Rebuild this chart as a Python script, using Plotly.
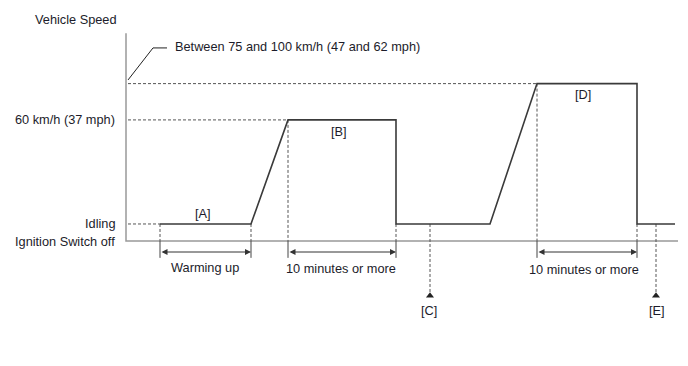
import plotly.graph_objects as go

# ---- data (schematic drive pattern) ----
IDLE = 8.4          # idling speed level (schematic)
TARGET_B = 60       # km/h
TARGET_D = 78       # between 75 and 100 km/h
profile_time = [3.4, 12.5, 16.2, 27.0, 27.0, 36.4, 41.1, 51.1, 51.1, 54.9]
profile_speed = [IDLE, IDLE, TARGET_B, TARGET_B, IDLE, IDLE, TARGET_D, TARGET_D, IDLE, IDLE]
axis_end_time = 55.2
axis_top_speed = 103

level_labels = ["Vehicle Speed", "60 km/h (37 mph)", "Idling", "Ignition Switch off"]
range_label = "Between 75 and 100 km/h (47 and 62 mph)"
step_labels = ["[A]", "[B]", "[C]", "[D]", "[E]"]
duration_labels = ["Warming up", "10 minutes or more", "10 minutes or more"]

# spans (start, end) for dimension arrows
spans = [(3.4, 12.5), (16.2, 27.0), (41.1, 51.1)]
marker_times = [30.4, 53.0]   # [C], [E]

LINE = "#3a3a3a"
AXIS = "#999999"
DASH = "#555555"
TXT = "#1c1c2a"
FONT = dict(family="Liberation Sans, Arial, sans-serif", size=12.75, color=TXT)

fig = go.Figure()

# axes (drawn as lines)
fig.add_trace(go.Scatter(x=[0, 0, axis_end_time], y=[axis_top_speed, 0, 0], mode="lines",
                         line=dict(color=AXIS, width=1.5), hoverinfo="skip"))

# dashed reference levels
for lvl, t_end in [(IDLE, profile_time[0]), (TARGET_B, profile_time[2]), (TARGET_D, profile_time[6])]:
    fig.add_trace(go.Scatter(x=[0.2, t_end], y=[lvl, lvl], mode="lines",
                             line=dict(color=DASH, width=1, dash="3px,2px"), hoverinfo="skip"))

# extension lines: dashed above the axis, solid below it
ext_low = -8.4
verticals = [(3.4, IDLE), (12.5, IDLE), (16.2, TARGET_B),
             (27.0, IDLE), (41.1, TARGET_D), (51.1, IDLE)]
for t, top in verticals:
    fig.add_trace(go.Scatter(x=[t, t], y=[top, 0], mode="lines",
                             line=dict(color=DASH, width=1, dash="3px,2px"), hoverinfo="skip"))
    fig.add_trace(go.Scatter(x=[t, t], y=[0, ext_low], mode="lines",
                             line=dict(color="#444", width=1), hoverinfo="skip"))
for t in marker_times:
    fig.add_trace(go.Scatter(x=[t, t], y=[IDLE, -25.5], mode="lines",
                             line=dict(color=DASH, width=1, dash="3px,2px"), hoverinfo="skip"))
    fig.add_trace(go.Scatter(x=[t], y=[-27.2], mode="markers",
                             marker=dict(symbol="triangle-up", size=7, color="#222"), hoverinfo="skip"))

# speed profile
fig.add_trace(go.Scatter(x=profile_time, y=profile_speed, mode="lines",
                         line=dict(color=LINE, width=1.6), hoverinfo="skip"))

# leader line for the range label
fig.add_trace(go.Scatter(x=[0.2, 2.7, 4.1], y=[79.8, 95.7, 95.7], mode="lines",
                         line=dict(color="#222", width=1), hoverinfo="skip"))

# dimension arrows
for a, b in spans:
    fig.add_annotation(x=b, y=-5.5, ax=a, ay=-5.5, xref="x", yref="y", axref="x", ayref="y",
                       showarrow=True, arrowhead=2, startarrowhead=2, arrowside="end+start",
                       arrowsize=1.2, arrowwidth=1, arrowcolor="#333", text="")

annots = [
    (-5.05, 110, level_labels[0], "center"),
    (-0.9, 60, level_labels[1], "right"),
    (-0.9, IDLE, level_labels[2], "right"),
    (-0.9, -0.5, level_labels[3], "right"),
    (4.7, 96.2, range_label, "left"),
    (7.7, 13.5, step_labels[0], "center"),
    (21.3, 54.5, step_labels[1], "center"),
    (30.3, -34.5, step_labels[2], "center"),
    (45.7, 72.5, step_labels[3], "center"),
    (53.1, -34.5, step_labels[4], "center"),
    (7.9, -13.3, duration_labels[0], "center"),
    (21.5, -13.8, duration_labels[1], "center"),
    (45.8, -14.2, duration_labels[2], "center"),
]
for x, y, t, xa in annots:
    fig.add_annotation(x=x, y=y, text=t, showarrow=False, xanchor=xa, yanchor="middle",
                       font=FONT)

# ranges compensate for the page's 8px body margin
fig.update_layout(
    width=688, height=366, margin=dict(l=0, r=0, t=0, b=0),
    paper_bgcolor="white", plot_bgcolor="white", showlegend=False,
    xaxis=dict(range=[-11.8, 57.0], visible=False, fixedrange=True),
    yaxis=dict(range=[-66.0, 115.5], visible=False, fixedrange=True),
)
fig.write_html("out.html")
